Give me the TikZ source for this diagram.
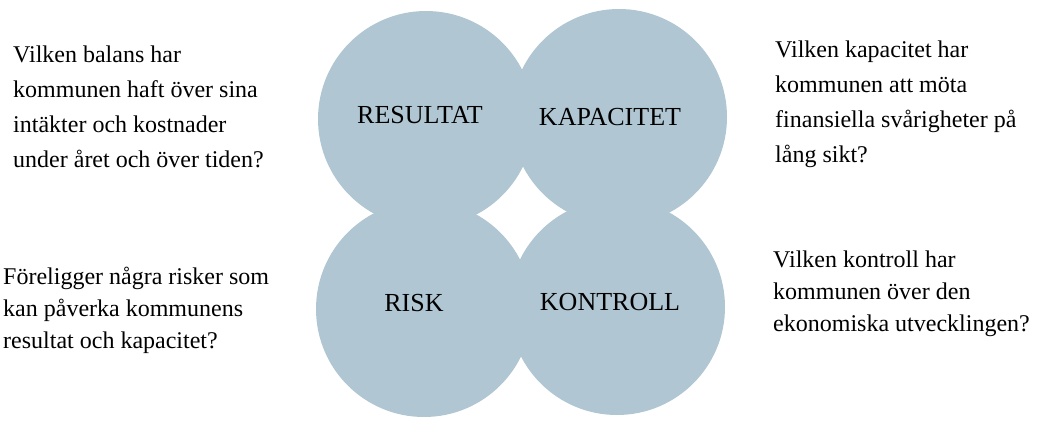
\documentclass[tikz,border=0pt]{standalone}
\usepackage{fontspec}
\setmainfont{Liberation Serif}
\definecolor{circ}{RGB}{176,199,211}
\begin{document}
\begin{tikzpicture}[x=1pt,y=-1pt,
  disc/.style={circle,fill=circ,draw=none,minimum size=216pt,inner sep=0pt},
  lbl/.style={font=\fontsize{26}{30}\selectfont,inner sep=0pt},
  qtop/.style={anchor=base west,align=left,inner sep=0pt,font=\fontsize{24}{35}\selectfont},
  qbot/.style={anchor=base west,align=left,inner sep=0pt,font=\fontsize{24}{32}\selectfont}]
\useasboundingbox (0,0) rectangle (1038,421);
\node[disc] (tl) at (426,119) {};
\node[disc] (tr) at (619,117) {};
\node[disc] (bl) at (424,309) {};
\node[disc] (br) at (617,307) {};
\node[lbl] (lres) at (420,115) {RESULTAT};
\node[lbl] (lkap) at (610,117) {KAPACITET};
\node[lbl] (lrisk) at (414,303) {RISK};
\node[lbl] (lkon) at (610,302) {KONTROLL};
% base anchor = baseline of the last line
\node[qtop] (q1) at (13,167) {Vilken balans har\\kommunen haft över sina\\intäkter och kostnader\\under året och över tiden?};
\node[qtop] (q2) at (775,162) {Vilken kapacitet har\\kommunen att möta\\finansiella svårigheter på\\lång sikt?};
\node[qbot] (q3) at (3,348) {Föreligger några risker som\\kan påverka kommunens\\resultat och kapacitet?};
\node[qbot] (q4) at (773,331) {Vilken kontroll har\\kommunen över den\\ekonomiska utvecklingen?};
\end{tikzpicture}
\end{document}
